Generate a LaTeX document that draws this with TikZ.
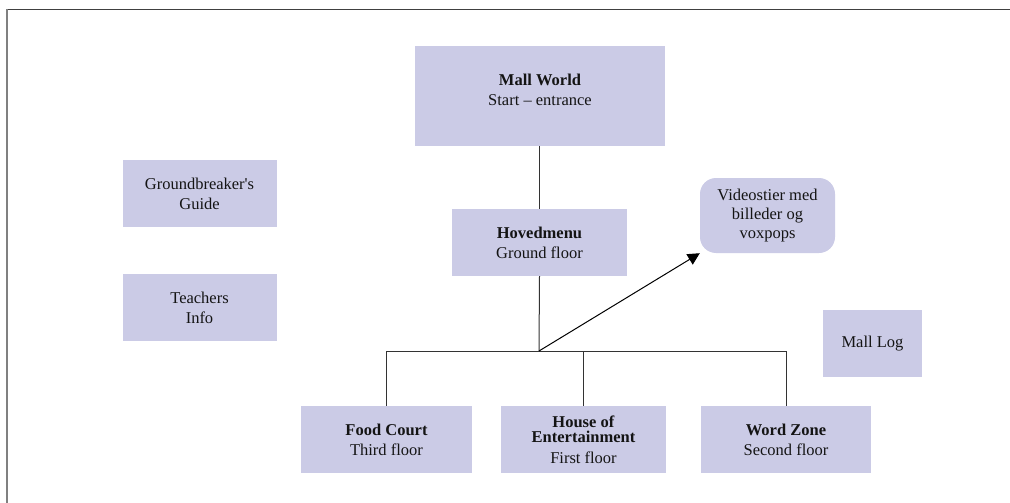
\documentclass[tikz,border=0pt]{standalone}
\usepackage{fontspec}
\setmainfont{Liberation Serif}
\usetikzlibrary{arrows.meta,positioning}
\definecolor{mallblue}{RGB}{203,203,230}
\definecolor{inktext}{RGB}{20,20,20}
\tikzset{room box/.style={rectangle,fill=mallblue,draw=none,align=center,inner sep=0pt,
           text=inktext,font=\fontsize{16.5}{20}\selectfont,minimum height=67pt},
         video box/.style={room box,rounded corners=16pt,minimum height=75pt,
           font=\fontsize{16.5}{19}\selectfont},
         tree line/.style={draw=black!80,line width=1pt},
         frame line/.style={line width=1.5pt}
}
\begin{document}
\begin{tikzpicture}[x=1pt,y=-1pt,>={Triangle[length=12pt,width=12pt]}]
\useasboundingbox (0,0) rectangle (1010,503);
\draw[frame line,draw=black!75] (6,9.5) -- (1010,9.5);
\draw[frame line,draw=black!50] (7,9) -- (7,503);

\node[room box,minimum width=250pt,minimum height=100pt] (mall) at (540,96)
    {\textbf{Mall World}\\Start -- entrance\\[-8pt]};
\node[room box,minimum width=175pt] (menu) at (539.5,242.5)
    {\textbf{Hovedmenu}\\Ground floor};
\node[room box,minimum width=154pt] (guide) at (199.5,193.5)
    {Groundbreaker\textquotesingle s\\Guide};
\node[room box,minimum width=154pt] (teach) at (199.5,307.5)
    {Teachers\\Info};
\node[video box,minimum width=135pt] (video) at (767.5,215.5)
    {Videostier med\\billeder og\\voxpops};
\node[room box,minimum width=99pt] (log) at (872.5,343.5) {Mall Log};
\node[room box,minimum width=171pt] (food) at (386.5,439.5)
    {\textbf{Food Court}\\Third floor};
\node[room box,minimum width=165pt] (house) at (583.5,439.5)
    {\textbf{House of}\\[-5pt]\textbf{Entertainment}\\[1pt]First floor};
\node[room box,minimum width=170pt] (word) at (786,439.5)
    {\textbf{Word Zone}\\Second floor};

\coordinate (hub) at (539,351);
\draw[tree line] (mall.south -| menu.north) -- (menu.north);
\draw[tree line] (menu.south) -- (hub);
\draw[tree line] (food.north) -- (food.north |- hub) -- (word.north |- hub) -- (word.north);
\draw[tree line] (house.north) -- (house.north |- hub);
\draw[tree line,->,draw=black] (hub) -- (video.south west);
\end{tikzpicture}
\end{document}
